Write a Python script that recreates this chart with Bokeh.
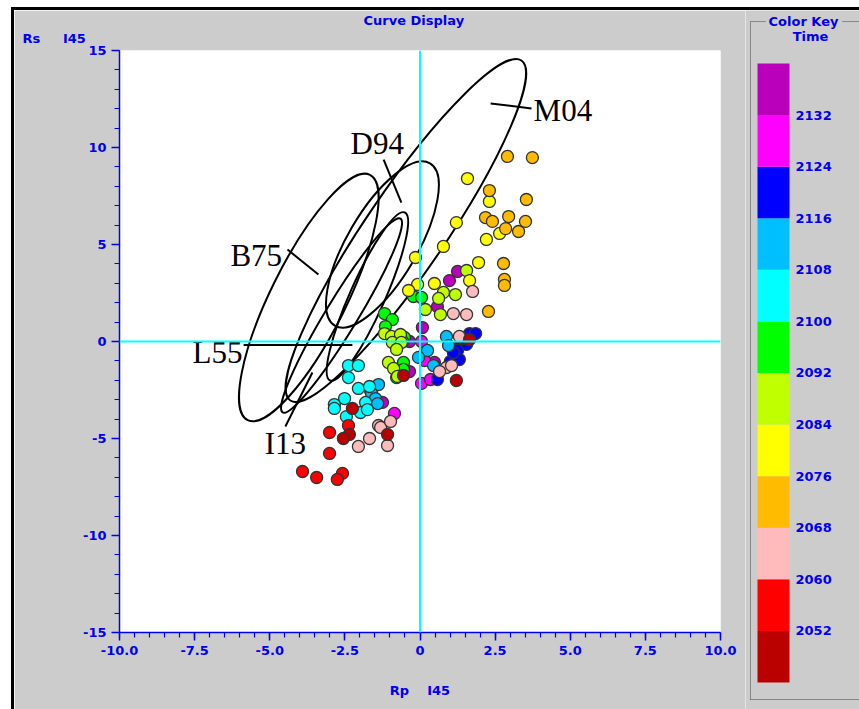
from bokeh.plotting import figure
from bokeh.models import Range1d, FixedTicker, Span, Title, LinearColorMapper, ColumnDataSource
from bokeh.layouts import row
from bokeh.embed import file_html
from bokeh.resources import INLINE
from bokeh.core.properties import value

# ---------------- data ----------------
X_TICKS = [-10.0, -7.5, -5.0, -2.5, 0.0, 2.5, 5.0, 7.5, 10.0]
X_TICK_LABELS = ["-10.0", "-7.5", "-5.0", "-2.5", "0", "2.5", "5.0", "7.5", "10.0"]
Y_TICKS = [-15, -10, -5, 0, 5, 10, 15]
Y_TICK_LABELS = ["-15", "-10", "-5", "0", "5", "10", "15"]

TIME_BOUNDS = [2044, 2052, 2060, 2068, 2076, 2084, 2092, 2100, 2108, 2116, 2124, 2132, 2140]
KEY_TICKS = [2052, 2060, 2068, 2076, 2084, 2092, 2100, 2108, 2116, 2124, 2132]
PALETTE = ["#bb0000", "#ff0000", "#ffbbbb", "#ffbb00", "#ffff00", "#bfff00",
           "#00ff00", "#00ffff", "#00bfff", "#0000ff", "#ff00ff", "#bb00bb"]

# points, grouped by time class (class mid value)
t2048_x = [1.65, 1.21, -0.55, -2.25, -2.35, -2.55, -1.08]
t2048_y = [0.10, -2.01, -1.75, -3.45, -4.79, -5.00, -4.79]
t2056_x = [-2.38, -3.01, -3.01, -3.91, -3.44, -2.58, -2.75]
t2056_y = [-4.33, -4.69, -5.77, -6.70, -7.01, -6.80, -7.11]
t2064_x = [1.75, 1.11, 1.55, 1.31, 0.88, 1.05, 0.65, -1.38, -1.31, -0.98, -1.68, -2.05, -1.08]
t2064_y = [2.58, 1.44, 1.39, 0.26, -1.34, -1.24, -1.55, -4.33, -4.43, -4.12, -5.00, -5.41, -5.36]
t2072_x = [2.91, 3.74, 2.31, 3.54, 2.18, 2.41, 2.95, 3.51, 2.85, 3.28, 2.78, 2.81, 2.81, 2.28]
t2072_y = [9.54, 9.48, 7.78, 7.32, 6.39, 6.19, 6.44, 6.19, 5.82, 5.67, 4.02, 3.20, 2.89, 1.55]
t2080_x = [1.58, 2.31, 1.21, 2.65, 2.21, 0.78, -0.15, 1.95, -0.08, 0.48, 1.65, -0.38]
t2080_y = [8.40, 7.22, 6.13, 5.57, 5.26, 4.90, 4.33, 4.07, 2.94, 2.99, 3.14, 2.63]
t2088_x = [1.55, 0.78, 1.18, 0.62, 0.18, 0.68, -0.58, -1.18, -0.95, -0.65, -0.92, -0.62, -0.78, -1.05, -0.88, -0.75]
t2088_y = [3.66, 2.53, 2.42, 2.22, 1.65, 1.39, 0.00, 0.41, 0.26, 0.36, -0.05, -0.05, -0.41, -1.08, -1.39, -1.80]
t2096_x = [-0.22, 0.05, -1.18, -0.92, -1.15, -0.52, -0.55, -0.55, -0.78]
t2096_y = [2.32, 2.27, 1.44, 1.13, 0.77, 0.21, -1.08, -1.44, -1.86]
t2104_x = [-2.38, -2.05, -2.38, -2.05, -1.68, -1.81, -1.98, -1.75, -2.51, -2.85, -2.45, -2.85]
t2104_y = [-1.24, -1.24, -1.86, -2.42, -2.32, -3.14, -3.66, -3.51, -2.94, -3.25, -3.87, -3.45]
t2112_x = [0.88, 0.95, 0.25, -0.05, 0.45, -1.65, -1.38, -1.61, -1.48, -1.41]
t2112_y = [0.26, -0.21, -0.46, -0.82, -1.24, -2.53, -2.22, -2.68, -2.94, -3.20]
t2120_x = [1.65, 1.85, 1.35, 1.55, 1.25, 1.01, 1.31, 0.58, 1.45, 1.11]
t2120_y = [0.41, 0.41, -0.10, -0.15, -0.46, -1.03, -0.93, -1.96, 0.15, -0.57]
t2128_x = [0.05, 0.15, 0.05, 0.35, -0.85]
t2128_y = [0.00, -0.98, -2.16, -1.96, -3.71]
t2136_x = [1.25, 0.98, 0.58, 0.08, -0.35, 0.48, -0.35, -1.25]
t2136_y = [3.61, 3.14, 1.80, 0.72, 0.00, -1.08, -1.55, -3.14]

# ellipses (center x/y in data units, width in x units, height in y units, angle deg)
ell_names = ["M04", "D94", "B75", "L55", "I13"]
ell_x = [-0.47, -1.25, -3.70, -1.75, -2.61]
ell_y = [5.72, 5.00, 2.27, 2.32, 1.34]
ell_w = [13.68, 6.26, 9.12, 6.12, 7.55]
ell_h = [4.12, 3.61, 3.87, 1.80, 1.65]
ell_angle = [55.8, 59.6, 63.5, 66.0, 58.7]

# ellipse name tags and their leader lines
tag_x = [3.78, -2.31, -6.31, -7.57, -5.17]
tag_y = [11.91, 10.21, 4.43, -0.57, -5.26]
lead_x0 = [2.35, -1.21, -4.41, -5.87, -4.48]
lead_y0 = [12.27, 9.38, 4.74, -0.18, -4.38]
lead_x1 = [3.71, -0.62, -3.38, -2.25, -3.58]
lead_y1 = [12.01, 7.16, 3.45, -0.18, -1.60]

# ---------------- styling ----------------
GRAY = "#cccccc"
BLUE = "#0000ee"
SANS = "DejaVu Sans"
SERIF = "Liberation Serif"
NB = "\u00a0"

groups = [
    (2136, t2136_x, t2136_y), (2128, t2128_x, t2128_y), (2120, t2120_x, t2120_y),
    (2112, t2112_x, t2112_y), (2104, t2104_x, t2104_y), (2096, t2096_x, t2096_y),
    (2088, t2088_x, t2088_y), (2080, t2080_x, t2080_y), (2072, t2072_x, t2072_y),
    (2064, t2064_x, t2064_y), (2056, t2056_x, t2056_y), (2048, t2048_x, t2048_y),
]
px, py, pt = [], [], []
for t, xs, ys in groups:
    px += xs
    py += ys
    pt += [t] * len(xs)

mapper = LinearColorMapper(palette=PALETTE, low=TIME_BOUNDS[0], high=TIME_BOUNDS[-1])

p = figure(width=731, height=699, x_range=Range1d(-10, 10), y_range=Range1d(-15, 15),
           output_backend="svg", toolbar_location=None, title=None,
           min_border_left=105, min_border_right=25, min_border_top=40, min_border_bottom=77,
           background_fill_color="white", border_fill_color=GRAY, outline_line_color=None)
p.frame_align = False
p.grid.visible = False

xa = p.xaxis[0]
ya = p.yaxis[0]
xa.ticker = FixedTicker(ticks=X_TICKS, minor_ticks=[-10 + 0.5 * i for i in range(41)])
xa.major_label_overrides = {float(k): v for k, v in zip(X_TICKS, X_TICK_LABELS)}
ya.ticker = FixedTicker(ticks=Y_TICKS, minor_ticks=list(range(-15, 16)))
ya.major_label_overrides = {float(k): v for k, v in zip(Y_TICKS, Y_TICK_LABELS)}
for ax in (xa, ya):
    ax.axis_line_color = BLUE
    ax.axis_line_width = 1.5
    ax.major_tick_line_color = BLUE
    ax.minor_tick_line_color = BLUE
    ax.major_tick_line_width = 1.5
    ax.minor_tick_line_width = 1.2
    ax.major_tick_out = 8
    ax.major_tick_in = 0
    ax.minor_tick_out = 5
    ax.minor_tick_in = 0
    ax.major_label_text_color = BLUE
    ax.major_label_text_font = SANS
    ax.major_label_text_font_style = "bold"
    ax.major_label_text_font_size = "13px"
    ax.major_label_standoff = 5
xa.axis_label = "Rp" + NB * 4 + "I45"
xa.axis_label_text_font = SANS
xa.axis_label_text_font_style = "bold"
xa.axis_label_text_font_size = "13px"
xa.axis_label_text_color = BLUE
xa.axis_label_standoff = 25

p.add_layout(Title(text="Rs" + NB * 5 + "I45", align="left", offset=-97, standoff=6, vertical_align="top",
                   text_font=SANS, text_font_style="bold", text_font_size="13px", text_color=BLUE), "above")
p.add_layout(Title(text="Curve Display", align="left", offset=244, standoff=0,
                   text_font=SANS, text_font_style="bold", text_font_size="13px", text_color=BLUE), "above")

p.add_layout(Span(location=0, dimension="height", line_color="#00ffff", line_width=2))
p.add_layout(Span(location=0, dimension="width", line_color="#00ffff", line_width=2))

p.ellipse(x=ell_x, y=ell_y, width=ell_w, height=ell_h, angle=ell_angle, angle_units="deg",
          fill_color=None, line_color="black", line_width=2)
p.segment(x0=lead_x0, y0=lead_y0, x1=lead_x1, y1=lead_y1, line_color="black", line_width=2)
p.text(x=tag_x, y=tag_y, text=ell_names, text_font=value(SERIF), text_font_size="31px",
       text_baseline="middle", text_align="left", text_color="black")

src = ColumnDataSource(dict(x=px, y=py, t=pt))
p.scatter(x="x", y="y", source=src, size=12, fill_color={"field": "t", "transform": mapper},
          line_color="#333333", line_width=1.3)

# ---------------- colour key ----------------
# key panel: frame covers the whole canvas; x in pixels from the panel's left edge
K_Y0, K_Y1 = 2039.81, 2148.22
BOX_TOP, BOX_BOTTOM = 2146.51, 2041.36
k = figure(width=114, height=699, x_range=Range1d(0, 114), y_range=Range1d(K_Y0, K_Y1),
           output_backend="svg", toolbar_location=None, title=None, x_axis_type=None, y_axis_type=None,
           min_border_left=0, min_border_right=0, min_border_top=0, min_border_bottom=0,
           background_fill_color=GRAY, border_fill_color=GRAY, outline_line_color=None)
k.frame_align = False
k.grid.visible = False
ksrc = ColumnDataSource(dict(bottom=TIME_BOUNDS[:-1], top=TIME_BOUNDS[1:],
                             mid=[(a + b) / 2 for a, b in zip(TIME_BOUNDS[:-1], TIME_BOUNDS[1:])]))
k.quad(left=12, right=44, bottom="bottom", top="top", source=ksrc,
       fill_color={"field": "mid", "transform": mapper}, line_color=None)
k.text(x=50, y=KEY_TICKS, text=[str(v) for v in KEY_TICKS], text_font=value(SANS),
       text_font_style="bold", text_font_size="13px", text_color=BLUE, text_baseline="middle")
# dotted group box
k.segment(x0=[5, 5, 5, 97], y0=[BOX_BOTTOM, BOX_BOTTOM, BOX_TOP, BOX_TOP],
          x1=[5, 114, 20, 114], y1=[BOX_TOP, BOX_BOTTOM, BOX_TOP, BOX_TOP],
          line_color="#444444", line_dash="1 1", line_width=1)
k.text(x=[58, 65], y=[BOX_TOP, 2144.2], text=["Color Key", "Time"], text_font=value(SANS),
       text_font_style="bold", text_font_size="13px", text_color=BLUE,
       text_baseline="middle", text_align="center")

layout = row(p, k, styles={"margin-left": "11px", "margin-top": "7px",
                           "border-top": "3px solid black", "border-left": "3px solid black"})
open("out.html", "w").write(file_html(layout, INLINE))
